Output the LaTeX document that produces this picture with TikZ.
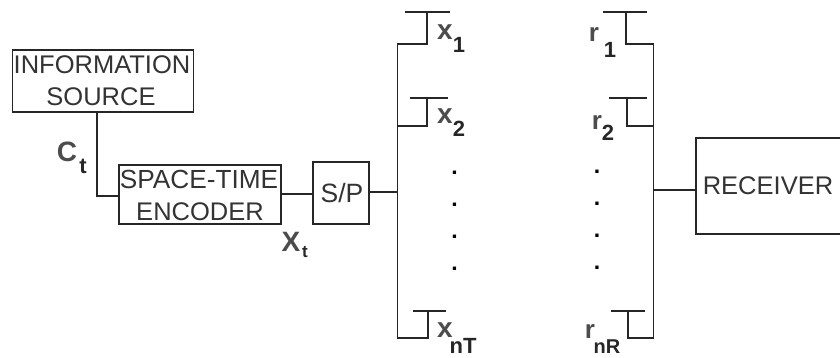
\documentclass[tikz,border=0pt]{standalone}
\usepackage{fontspec}
\setmainfont{Liberation Sans}
\newcommand{\fs}[1]{\fontsize{#1}{#1}\selectfont}
\tikzset{
  x=1pt,y=-1pt,
  wire/.style={line width=1.15pt,color=black!85},
  blockbox/.style={draw=black!85,line width=1.15pt,inner sep=0pt,minimum width=#1},
  blocktext/.style={inner sep=0pt,color=black!80,align=center,font=\fs{25.5}},
  lab/.style={inner sep=0pt,font=\fs{28}\bfseries,color=black!70,anchor=center},
  rlab/.style={lab,font=\fs{26}\bfseries},
  sub/.style={inner sep=0pt,font=\fs{22}\bfseries,color=black!85,anchor=center},
  dotmark/.style={inner sep=0pt,font=\fs{23}\bfseries,color=black}
}
\begin{document}
\begin{tikzpicture}
\useasboundingbox (0,0) rectangle (840,358);
% blocks
\node[blockbox=181pt,minimum height=62pt] (info) at (103,81) {};
\node[blocktext] (infoa) at (102,65) {INFORMATION};
\node[blocktext] (infob) at (101,97) {SOURCE};
\node[blockbox=162pt,minimum height=59pt] (enc) at (200,194.5) {};
\node[blocktext,font=\fs{26.2}] (enca) at (199,179) {SPACE-TIME};
\node[blocktext] (encb) at (200,212) {ENCODER};
\node[blockbox=56pt,minimum height=62pt] (sp) at (341,193) {};
\node[blocktext,font=\fs{26.5}] (sptext) at (342,193) {S/P};
% receiver, open at the picture's right edge
\coordinate (recTL) at (840,138);
\coordinate (recTR) at (696,138);
\coordinate (recBL) at (696,234);
\coordinate (recBR) at (840,234);
\draw[wire] (recTL) -- (recTR) -- (recBL) -- (recBR);
\node[blocktext] (rectext) at (768,186) {RECEIVER};
% source to encoder to S/P
\draw[wire] (info.south -| 97,0) |- (enc.west |- 0,196);
\draw[wire] (enc.east |- 0,194) -- (sp.west |- 0,194);
% tx bus
\coordinate (txTop) at (397.5,44);
\coordinate (txBot) at (397.5,338);
\coordinate (txJ) at (397.5,192);
\draw[wire] (sp.east |- txJ) -- (txJ);
\coordinate (t1s) at (427,44);
\coordinate (t1m) at (427,12);
\coordinate (t1a) at (405,12);
\coordinate (t1b) at (450,12);
\coordinate (t2j) at (397.5,126);
\coordinate (t2s) at (427,126);
\coordinate (t2m) at (427,98);
\coordinate (t2a) at (410,98);
\coordinate (t2b) at (448,98);
\coordinate (t3s) at (428,338);
\coordinate (t3m) at (428,311);
\coordinate (t3a) at (413,311);
\coordinate (t3b) at (446,311);
\draw[wire] (t1a) -- (t1b);
\draw[wire] (t1m) -- (t1s) -- (txTop) -- (txBot) -- (t3s) -- (t3m);
\draw[wire] (t3a) -- (t3b);
\draw[wire] (t2j) -- (t2s) -- (t2m);
\draw[wire] (t2a) -- (t2b);
% rx bus
\coordinate (rxTop) at (653.5,44);
\coordinate (rxBot) at (653.5,338);
\coordinate (rxJ) at (653.5,190);
\coordinate (rxIn) at (696,190);
\draw[wire] (rxJ) -- (rxIn);
\coordinate (r1s) at (626,44);
\coordinate (r1m) at (626,12);
\coordinate (r1a) at (603,12);
\coordinate (r1b) at (647,12);
\coordinate (r2j) at (653.5,126);
\coordinate (r2s) at (627,126);
\coordinate (r2m) at (627,98);
\coordinate (r2a) at (609,98);
\coordinate (r2b) at (647,98);
\coordinate (r3s) at (628,338);
\coordinate (r3m) at (628,311);
\coordinate (r3a) at (611,311);
\coordinate (r3b) at (645,311);
\draw[wire] (r1a) -- (r1b);
\draw[wire] (r1m) -- (r1s) -- (rxTop) -- (rxBot) -- (r3s) -- (r3m);
\draw[wire] (r3a) -- (r3b);
\draw[wire] (r2j) -- (r2s) -- (r2m);
\draw[wire] (r2a) -- (r2b);
% labels
\node[lab] (lc) at (67,152) {C};
\node[sub] (lct) at (83,166) {t};
\node[lab] (lX) at (291,242) {X};
\node[sub,font=\fs{17}\bfseries] (lXt) at (305,252) {t};
\node[lab] (lx1) at (445,32) {x};
\node[sub] (lx1s) at (459,45) {1};
\node[lab] (lx2) at (445,116) {x};
\node[sub] (lx2s) at (459,129) {2};
\node[lab] (lx3) at (445,330) {x};
\node[sub] (lx3s) at (463,346) {nT};
\node[rlab] (lr1) at (594,35) {r};
\node[sub] (lr1s) at (610,50) {1};
\node[rlab] (lr2) at (597,123) {r};
\node[sub] (lr2s) at (608,133) {2};
\node[rlab] (lr3) at (590,331) {r};
\node[sub,font=\fs{20}\bfseries] (lr3s) at (607,347) {nR};
% dots
\foreach \n/\y in {a/173,b/205,c/237,d/269} {
  \node[dotmark] (tx\n) at (454.5,\y) {.};
  \node[dotmark] (rx\n) at (597,\y-1) {.};
}
\end{tikzpicture}
\end{document}
